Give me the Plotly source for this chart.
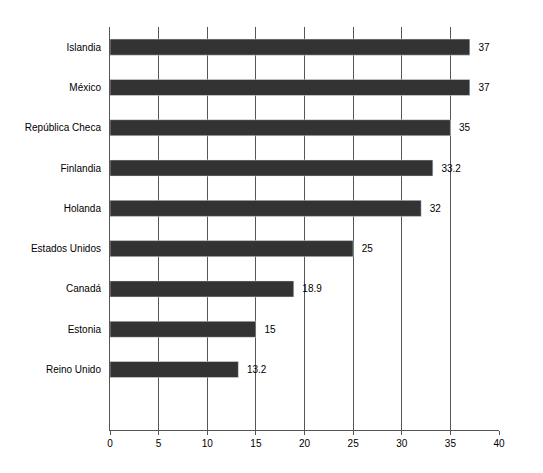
import plotly.graph_objects as go

countries = ['Islandia', 'México', 'República Checa', 'Finlandia', 'Holanda',
             'Estados Unidos', 'Canadá', 'Estonia', 'Reino Unido']
values = [37, 37, 35, 33.2, 32, 25, 18.9, 15, 13.2]
labels = ['37', '37', '35', '33.2', '32', '25', '18.9', '15', '13.2']

# empty slot at the bottom, as in the original
cats = countries + [' ']
vals = values + [None]
txt = ['  ' + t for t in labels] + ['']

fig = go.Figure(go.Bar(
    x=vals, y=cats, orientation='h',
    marker_color='#333333', width=0.4,
    text=txt, textposition='outside', cliponaxis=False,
    textfont=dict(size=10, color='#000000'),
))

fig.update_layout(
    width=543, height=473,
    plot_bgcolor='white', paper_bgcolor='white',
    font=dict(family='Liberation Sans', size=10, color='#000000'),
    margin=dict(l=102, r=52, t=19, b=51),
    showlegend=False,
    xaxis=dict(range=[0, 40], dtick=5, showgrid=True, gridcolor='#555555', gridwidth=1,
               zeroline=False, showline=True, linecolor='#555555',
               ticks='outside', ticklen=4, tickcolor='#555555'),
    yaxis=dict(autorange='reversed', showgrid=False, zeroline=False,
               showline=True, linecolor='#555555', ticks='', ticklabelstandoff=6),
)

fig.write_html("out.html")
